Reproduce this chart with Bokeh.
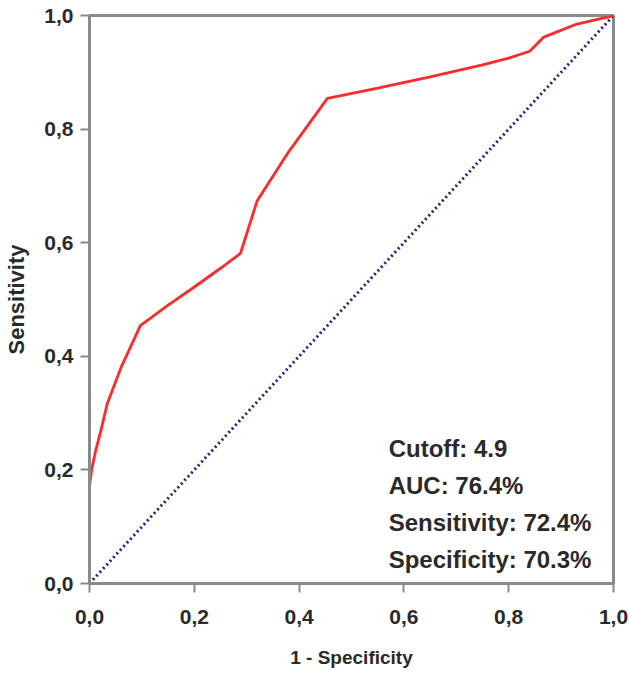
from bokeh.plotting import figure
from bokeh.models import Range1d, FixedTicker
from bokeh.core.properties import value
from bokeh.embed import file_html
from bokeh.resources import INLINE

# ROC curve (1 - specificity, sensitivity)
fpr = [0.0, 0.0, 0.004, 0.012, 0.022, 0.034, 0.06, 0.097, 0.15, 0.2, 0.25, 0.288,
       0.32, 0.38, 0.454, 0.55, 0.65, 0.75, 0.8, 0.84, 0.867, 0.93, 0.988, 1.0]
tpr = [0.0, 0.17, 0.2, 0.235, 0.27, 0.317, 0.38, 0.454, 0.49, 0.522, 0.555, 0.581,
       0.674, 0.76, 0.854, 0.872, 0.892, 0.913, 0.925, 0.937, 0.962, 0.985, 0.997, 1.0]
ref_x = [0.0, 1.0]
ref_y = [0.0, 1.0]
ticks = [0.0, 0.2, 0.4, 0.6, 0.8, 1.0]
tick_labels = ["0,0", "0,2", "0,4", "0,6", "0,8", "1,0"]
stats_lines = ["Cutoff: 4.9", "AUC: 76.4%", "Sensitivity: 72.4%", "Specificity: 70.3%"]

FONT = "Liberation Sans"
TXT = "#2a2a2a"
GRAY = "#8a8a8a"

p = figure(width=629, height=675, output_backend="svg", toolbar_location=None,
           x_range=Range1d(0, 1), y_range=Range1d(0, 1),
           min_border_left=89, min_border_right=16, min_border_top=15, min_border_bottom=92)
p.grid.visible = False
p.background_fill_color = "white"
p.border_fill_color = "white"
p.outline_line_color = GRAY
p.outline_line_width = 3

for ax in (p.xaxis[0], p.yaxis[0]):
    ax.ticker = FixedTicker(ticks=ticks)
    ax.major_label_overrides = {t: l for t, l in zip(ticks, tick_labels)}
    ax.minor_tick_line_color = None
    ax.major_tick_in = 0
    ax.major_tick_out = 9
    ax.major_tick_line_color = GRAY
    ax.major_tick_line_width = 2
    ax.axis_line_color = GRAY
    ax.axis_line_width = 3
    ax.major_label_text_font = FONT
    ax.major_label_text_font_size = "21px"
    ax.major_label_text_font_style = "bold"
    ax.major_label_text_color = TXT
    ax.axis_label_text_font = FONT
    ax.axis_label_text_font_style = "bold"
    ax.axis_label_text_color = TXT

p.xaxis.axis_label = "1 - Specificity"
p.xaxis.axis_label_text_font_size = "19px"
p.xaxis.major_label_standoff = 17
p.xaxis.axis_label_standoff = 20
p.yaxis.axis_label = "Sensitivity"
p.yaxis.axis_label_text_font_size = "22px"
p.yaxis.major_label_standoff = 7
p.yaxis.axis_label_standoff = 12

p.line(ref_x, ref_y, line_color="#23237e", line_width=3, line_dash="2 3")
p.line(fpr, tpr, line_color="#ff2a2a", line_width=2.8)

ys = [0.238 - i * 0.065 for i in range(len(stats_lines))]
p.text(x=[0.571] * len(stats_lines), y=ys, text=stats_lines,
       text_font=value(FONT), text_font_size="24px", text_font_style="bold",
       text_color=TXT, text_baseline="middle", text_align="left")

open("out.html", "w").write(file_html(p, INLINE))
